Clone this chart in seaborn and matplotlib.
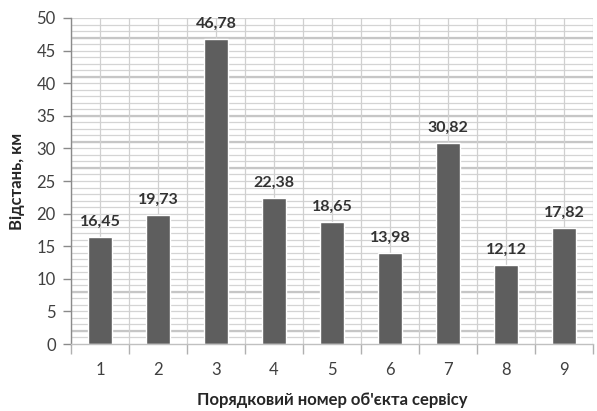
import matplotlib
matplotlib.use("Agg")
import matplotlib.pyplot as plt
import seaborn as sns
import pandas as pd
import numpy as np

# Service object numbers and distances (km)
objects = ["1", "2", "3", "4", "5", "6", "7", "8", "9"]
distances = [16.45, 19.73, 46.78, 22.38, 18.65, 13.98, 30.82, 12.12, 17.82]
value_labels = ["16,45", "19,73", "46,78", "22,38", "18,65", "13,98", "30,82", "12,12", "17,82"]
y_ticks = [0, 5, 10, 15, 20, 25, 30, 35, 40, 45, 50]
heavy_grid = [2, 8, 27, 31, 35, 41, 47]

sns.set_theme(style="white")
plt.rcParams["font.family"] = ["Lato", "DejaVu Sans"]

df = pd.DataFrame({"object": objects, "distance": distances})

fig = plt.figure(figsize=(5.97, 4.11), dpi=100)
ax = fig.add_axes([71 / 597, 1 - 344 / 411, (593 - 71) / 597, (344 - 18) / 411])

# Grid: light line every unit, a few heavier lines, vertical lines every half category
for v in range(1, 51):
    ax.axhline(v, color="#d4d4d4", lw=0.9, zorder=0)
for v in heavy_grid:
    ax.axhline(v, color="#c6c6c6", lw=1.6, zorder=0)
for xv in np.arange(-0.5, 9.0, 0.5):
    ax.axvline(xv, color="#d0d0d0", lw=0.9, zorder=0)

sns.barplot(data=df, x="object", y="distance", color="#5e5e5e", width=0.4,
            saturation=1, ax=ax, zorder=2)

for i, (v, lab) in enumerate(zip(distances, value_labels)):
    ax.annotate(lab, (i, v), xytext=(0, 6), textcoords="offset points",
                ha="center", va="bottom", fontsize=11.5, fontweight="bold",
                color="#333333", annotation_clip=False)

ax.set_xlim(-0.5, 8.5)
ax.set_ylim(0, 50)
ax.set_yticks(y_ticks)
ax.set_yticklabels([str(t) for t in y_ticks])
ax.tick_params(axis="y", length=6, width=1, color="#8a8a8a", direction="out",
               labelsize=12, labelcolor="#404040", pad=5, left=True)
ax.set_xticks(np.arange(-0.5, 9.0, 1.0), minor=True)
ax.tick_params(axis="x", which="minor", length=7, width=1, color="#b0b0b0",
               direction="out", bottom=True)
ax.tick_params(axis="x", which="major", length=0, labelsize=12,
               labelcolor="#404040", pad=13)

for side in ["top", "right"]:
    ax.spines[side].set_visible(False)
ax.spines["left"].set_color("#8a8a8a")
ax.spines["left"].set_linewidth(1.0)
ax.spines["bottom"].set_color("#c0c0c0")
ax.spines["bottom"].set_linewidth(1.0)

ax.set_xlabel("Порядковий номер об'єкта сервісу", fontsize=12, fontweight="bold",
              color="#262626", labelpad=10)
ax.set_ylabel("Відстань, км", fontsize=12, fontweight="bold", color="#262626",
              labelpad=8)

fig.savefig("out.png", dpi=100)
